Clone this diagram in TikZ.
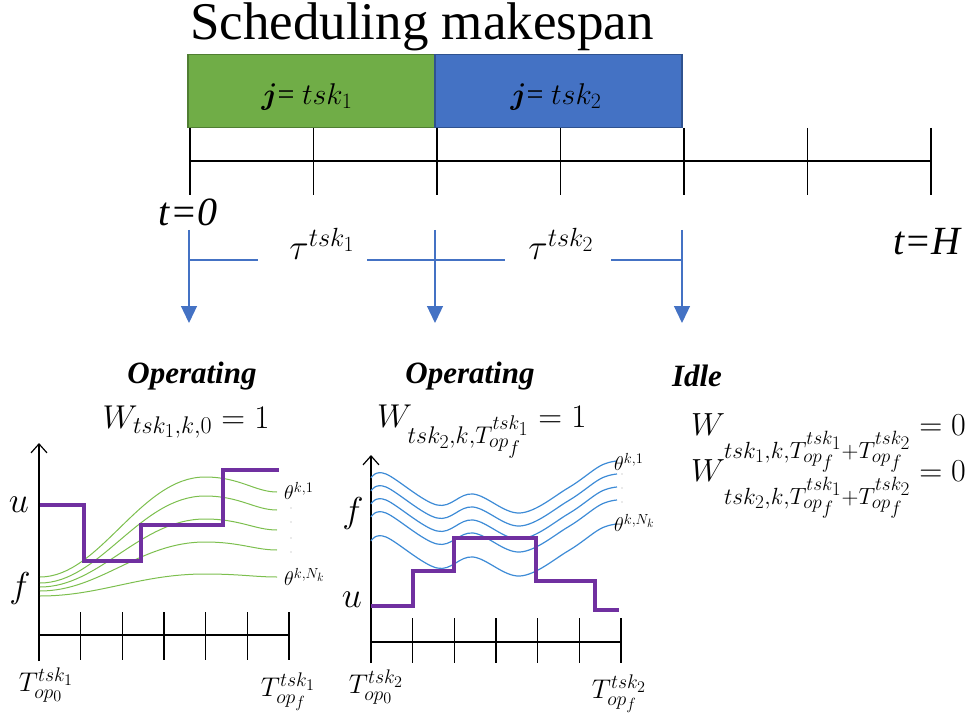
\documentclass[tikz,border=0pt]{standalone}
\usepackage{fix-cm}
\usepackage{amsmath}
\usepackage{fontspec}
\setmainfont{Liberation Serif}
\usetikzlibrary{arrows.meta}
\DeclareMathSizes{20}{20}{14.6}{12}
\DeclareMathSizes{27}{27}{19.7}{16.2}
\DeclareMathSizes{30}{30}{21.9}{18}
\DeclareMathSizes{32}{32}{23.4}{19.2}
\DeclareMathSizes{33}{33}{24.1}{19.8}
\DeclareMathSizes{36}{36}{26.3}{21.6}
\definecolor{gfill}{HTML}{70AD47}
\definecolor{gborder}{HTML}{507E32}
\definecolor{bfill}{HTML}{4472C4}
\definecolor{bborder}{HTML}{2F528F}
\definecolor{arrowblue}{HTML}{4472C4}
\definecolor{stepviolet}{HTML}{7030A0}
\definecolor{curvegreen}{HTML}{7CBF4E}
\definecolor{curveblue}{HTML}{3D8BD6}
\newcommand{\fsz}[1]{\fontsize{#1}{#1}\selectfont}
\newcommand{\lowsub}[1]{\kern-1pt\raisebox{-23pt}{$\scriptstyle #1$}}
\begin{document}
\begin{tikzpicture}[x=1pt,y=-1pt,
  blk/.style={line width=1.2pt},
  taskbox/.style={line width=1.5pt, minimum width=247pt, minimum height=73pt, inner sep=0pt, anchor=north west},
  bluearrow/.style={draw=arrowblue, line width=1.3pt, -{Triangle[length=17pt,width=16pt]}},
  blueline/.style={draw=arrowblue, line width=1.3pt},
  purplestep/.style={draw=stepviolet, line width=4pt, line join=miter},
  gcurve/.style={draw=curvegreen, line width=1pt},
  bcurve/.style={draw=curveblue, line width=1.2pt},
  axisarrow/.style={line width=1.2pt, -{Straight Barb[length=9pt,width=16pt]}},
  lbl/.style={inner sep=0pt},
  heading/.style={lbl, font=\fsz{31}\bfseries\itshape},
]
\useasboundingbox (0,0) rectangle (979,727);

% title and task boxes
\node[lbl, font=\fsz{53}, anchor=base] (title) at (422,40) {Scheduling makespan};
\node[taskbox, draw=gborder, fill=gfill] (box1) at (187,54) {};
\node[taskbox, draw=bborder, fill=bfill] (box2) at (434,54) {};
\node[lbl, font=\fsz{30}] (lab1) at (307,97) {$\boldsymbol{j}$= $tsk_1$};
\node[lbl, font=\fsz{30}] (lab2) at (556,97) {$\boldsymbol{j}$= $tsk_2$};

% time line
\coordinate (tl0) at (190,161);
\coordinate (tl6) at (931,161);
\draw[blk] (tl0) -- (tl6);
\foreach \x in {190,313.5,437,560.5,684,807.5,931}
  \draw[blk] (\x,128) -- (\x,195);
\node[lbl, font=\fsz{40}\itshape] (t0) at (188,212) {t=0};
\node[lbl, font=\fsz{40}\itshape] (tH) at (927,242) {t=H};

% blue arrows
\coordinate (a1s) at (189,230); \coordinate (a1e) at (189,323);
\coordinate (a2s) at (435,230); \coordinate (a2e) at (435,323);
\coordinate (a3s) at (682,230); \coordinate (a3e) at (682,323);
\draw[bluearrow] (a1s) -- (a1e);
\draw[bluearrow] (a2s) -- (a2e);
\draw[bluearrow] (a3s) -- (a3e);
\node[lbl, font=\fsz{36}] (tau1) at (322,244) {$\tau^{tsk_1}$};
\node[lbl, font=\fsz{36}] (tau2) at (561,244) {$\tau^{tsk_2}$};
\coordinate (h1) at (189,260); \coordinate (h2) at (258,260);
\coordinate (h3) at (367,260); \coordinate (h4) at (505,260);
\coordinate (h5) at (611,260); \coordinate (h6) at (682,260);
\draw[blueline] (h1) -- (h2);
\draw[blueline] (h3) -- (h4);
\draw[blueline] (h5) -- (h6);

% headings
\node[heading] (op1) at (192,376) {Operating};
\node[heading] (op2) at (470,376) {Operating};
\node[heading] (idle) at (697,376) {Idle};
\node[lbl, font=\fsz{33}, anchor=base] (w1) at (186,428) {$W_{tsk_1,k,0}=1$};
\node[lbl, font=\fsz{33}, anchor=base west] (w2) at (377,427) {$W_{tsk_2,k,T^{tsk_1}_{op_f}}=1$};
\node[lbl, font=\fsz{32}, anchor=base west] (w3) at (691,435) {$W\lowsub{tsk_1,k,T^{tsk_1}_{op_f}+T^{tsk_2}_{op_f}}=0$};
\node[lbl, font=\fsz{32}, anchor=base west] (w4) at (691,481) {$W\lowsub{tsk_2,k,T^{tsk_1}_{op_f}+T^{tsk_2}_{op_f}}=0$};

% ---------- left panel ----------
\coordinate (l0) at (39,661); \coordinate (ltop) at (39,443);
\coordinate (lh0) at (39,635); \coordinate (lh1) at (289,635);
\draw[axisarrow] (l0) -- (ltop);
\draw[blk] (lh0) -- (lh1);
\foreach \i in {1,...,6}
  \draw[blk] ({39+\i*41.67},612) -- ({39+\i*41.67},660);
\foreach \s/\p/\e in {577/477/492, 583/496/510, 587/519/530, 591/542/550, 596/574/577}
  \draw[gcurve] (40,\s) .. controls (100,\s) and (140,\p) .. (205,\p)
                        .. controls (240,\p) and (255,\e) .. (277,\e);
\draw[purplestep] (40,505) -- (84,505) -- (84,561) -- (141,561) -- (141,525)
  -- (223,525) -- (223,470) -- (279,470);
\node[lbl, font=\fsz{36}] (lu) at (19,505) {$u$};
\node[lbl, font=\fsz{36}] (lf) at (20,588) {$f$};
\node[lbl, font=\fsz{20}, anchor=west] (lth1) at (284,491) {$\theta^{k,1}$};
\node[lbl, font=\fsz{20}, anchor=west] (lthN) at (284,577) {$\theta^{k,N_k}$};
\foreach \y in {508,522,538,552}
  \fill[gray!70] (291,\y) circle (0.6pt);
\node[lbl, font=\fsz{27}] (lT0) at (46,685) {$T^{tsk_1}_{op_0}$};
\node[lbl, font=\fsz{27}] (lTf) at (288,692) {$T^{tsk_1}_{op_f}$};

% ---------- middle panel ----------
\coordinate (m0) at (371,663); \coordinate (mtop) at (371,455);
\coordinate (mh0) at (371,642); \coordinate (mh1) at (621,642);
\draw[axisarrow] (m0) -- (mtop);
\draw[blk] (mh0) -- (mh1);
\foreach \i in {1,...,6}
  \draw[blk] ({371+\i*41.67},618) -- ({371+\i*41.67},663);
\foreach \d in {0,13,26,39,63}
  \draw[bcurve] plot[smooth, tension=0.6] coordinates {(371,{478+\d}) (386,{474+\d}) (437,{505+\d}) (473,{494+\d}) (520,{513+\d}) (568,{488+\d}) (600,{466+\d}) (617,{461+\d})};
\draw[purplestep] (371,606) -- (413,606) -- (413,571) -- (454,571) -- (454,538)
  -- (536,538) -- (536,581) -- (595,581) -- (595,610) -- (619,610);
\node[lbl, font=\fsz{36}] (mf) at (353,513) {$f$};
\node[lbl, font=\fsz{36}] (mu) at (352,600) {$u$};
\node[lbl, font=\fsz{20}, anchor=west] (mth1) at (614,462) {$\theta^{k,1}$};
\node[lbl, font=\fsz{20}, anchor=west] (mthN) at (614,523) {$\theta^{k,N_k}$};
\foreach \y in {474,488,502}
  \fill[gray!70] (622,\y) circle (0.6pt);
\node[lbl, font=\fsz{27}] (mT0) at (376,687) {$T^{tsk_2}_{op_0}$};
\node[lbl, font=\fsz{27}] (mTf) at (619,694) {$T^{tsk_2}_{op_f}$};
\end{tikzpicture}
\end{document}
